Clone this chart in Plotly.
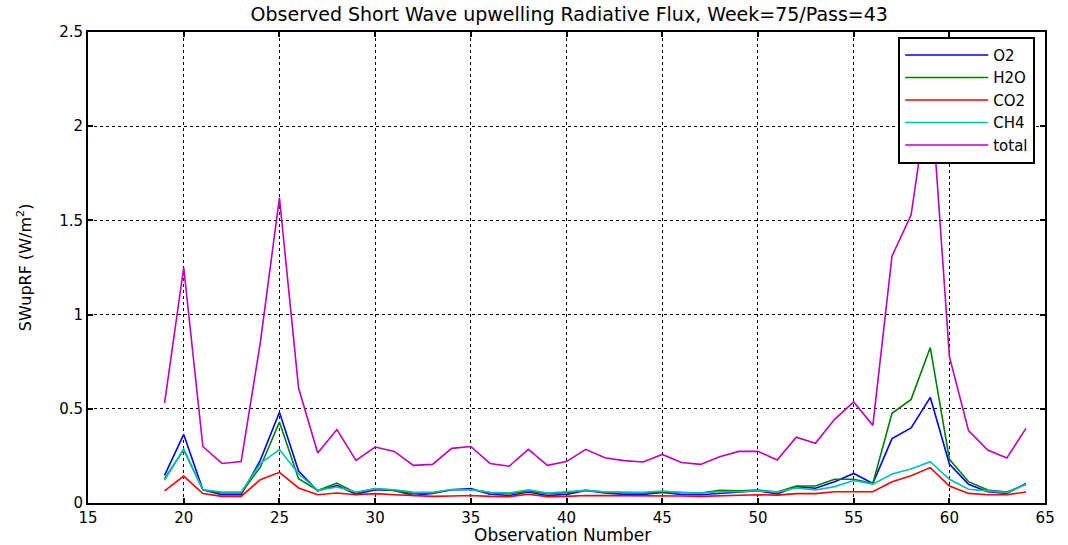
import plotly.graph_objects as go

obs = list(range(19, 65))

o2 = [0.147, 0.364, 0.07, 0.044, 0.044, 0.226, 0.482, 0.17, 0.064, 0.094,
      0.046, 0.07, 0.067, 0.04, 0.05, 0.07, 0.076, 0.046, 0.04, 0.058,
      0.04, 0.046, 0.067, 0.053, 0.046, 0.046, 0.056, 0.046, 0.044, 0.05,
      0.06, 0.065, 0.048, 0.087, 0.078, 0.113, 0.157, 0.104, 0.342, 0.398,
      0.561, 0.207, 0.099, 0.06, 0.051, 0.104]
h2o = [0.129, 0.283, 0.07, 0.053, 0.053, 0.19, 0.43, 0.129, 0.067, 0.106,
       0.053, 0.076, 0.067, 0.05, 0.053, 0.07, 0.072, 0.055, 0.05, 0.064,
       0.05, 0.055, 0.067, 0.058, 0.055, 0.053, 0.06, 0.055, 0.053, 0.067,
       0.065, 0.069, 0.058, 0.09, 0.09, 0.126, 0.126, 0.104, 0.476, 0.55,
       0.825, 0.232, 0.113, 0.069, 0.058, 0.099]
co2 = [0.064, 0.143, 0.05, 0.035, 0.035, 0.124, 0.163, 0.08, 0.044, 0.053,
       0.044, 0.05, 0.044, 0.04, 0.035, 0.037, 0.04, 0.035, 0.034, 0.046,
       0.034, 0.035, 0.04, 0.039, 0.039, 0.039, 0.039, 0.037, 0.035, 0.039,
       0.042, 0.044, 0.042, 0.05, 0.05, 0.06, 0.06, 0.06, 0.113, 0.145,
       0.188, 0.09, 0.051, 0.044, 0.044, 0.058]
ch4 = [0.12, 0.288, 0.07, 0.058, 0.058, 0.21, 0.284, 0.155, 0.067, 0.085,
       0.058, 0.076, 0.07, 0.058, 0.057, 0.072, 0.07, 0.057, 0.053, 0.07,
       0.053, 0.058, 0.067, 0.058, 0.057, 0.057, 0.064, 0.055, 0.053, 0.06,
       0.06, 0.065, 0.058, 0.08, 0.069, 0.087, 0.119, 0.10, 0.154, 0.18,
       0.219, 0.126, 0.073, 0.065, 0.055, 0.099]
total = [0.53, 1.25, 0.30, 0.21, 0.22, 0.85, 1.62, 0.61, 0.265, 0.39,
         0.226, 0.297, 0.274, 0.20, 0.205, 0.29, 0.30, 0.21, 0.195, 0.285,
         0.20, 0.22, 0.285, 0.24, 0.225, 0.218, 0.258, 0.215, 0.205, 0.245,
         0.274, 0.274, 0.228, 0.349, 0.317, 0.444, 0.536, 0.412, 1.31, 1.53,
         2.23, 0.777, 0.384, 0.281, 0.239, 0.396]

x_ticks = [15, 20, 25, 30, 35, 40, 45, 50, 55, 60, 65]
y_ticks = [0, 0.5, 1, 1.5, 2, 2.5]
y_tick_text = ["0", "0.5", "1", "1.5", "2", "2.5"]

series = [
    ("O2", o2, "#0000ff"),
    ("H2O", h2o, "#008000"),
    ("CO2", co2, "#ff0000"),
    ("CH4", ch4, "#00bfbf"),
    ("total", total, "#bf00bf"),
]

FONT = "DejaVu Sans, Liberation Sans, Arial, sans-serif"

# plot box starts at 88 px inside a 1068 px figure;
# the x axis domain stops short of the paper edge so the last tick label fits
W, L = 1068, 88
PAPER_W = W - L
x_domain_end = 967 / PAPER_W

fig = go.Figure()
for name, vals, color in series:
    fig.add_trace(go.Scatter(x=obs, y=vals, mode="lines", name=name,
                             line=dict(color=color, width=1.6)))

axis_common = dict(
    showline=True, linecolor="black", linewidth=2, mirror="ticks",
    ticks="inside", ticklen=5, tickcolor="black", tickwidth=1.5,
    showgrid=True, gridcolor="black", griddash="dot", gridwidth=1.2,
    zeroline=False, ticklabeloverflow="allow",
    tickfont=dict(size=15, color="black", family=FONT),
)

fig.update_layout(
    width=W, height=545,
    paper_bgcolor="white", plot_bgcolor="white",
    font=dict(family=FONT, color="black"),
    margin=dict(l=L, r=0, t=32, b=42),
    title=dict(text="Observed Short Wave upwelling Radiative Flux, Week=75/Pass=43",
               x=0.533, xanchor="center", y=0.974, yanchor="middle",
               font=dict(size=19)),
    xaxis=dict(range=[15, 65], tickvals=x_ticks, domain=[0, x_domain_end],
               automargin=True, **axis_common),
    yaxis=dict(range=[0, 2.5], tickvals=y_ticks, ticktext=y_tick_text,
               automargin=False, **axis_common),
    legend=dict(x=(1045 - L) / PAPER_W, y=0.99, xanchor="right", yanchor="top",
                bgcolor="white", bordercolor="black", borderwidth=2,
                font=dict(size=15), itemwidth=83, tracegroupgap=0),
    showlegend=True,
)

# Axis titles placed relative to the plotting area
fig.add_annotation(text="Observation Number", xref="paper", yref="paper",
                   x=(567 - L) / PAPER_W, y=-0.067, xanchor="center", yanchor="middle",
                   showarrow=False, font=dict(size=17))
fig.add_annotation(text="SWupRF (W/m<sup>2</sup>)", xref="paper", yref="paper",
                   x=(24 - L) / PAPER_W, y=0.5, xanchor="center", yanchor="middle",
                   textangle=-90, showarrow=False, font=dict(size=16))

fig.write_html("out.html")
